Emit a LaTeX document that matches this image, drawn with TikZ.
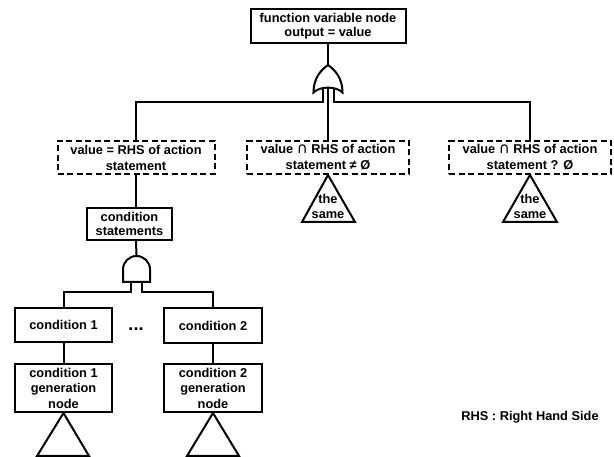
\documentclass[tikz,border=0pt]{standalone}
\usepackage{fontspec}
\setmainfont{Liberation Sans}
\newfontfamily\dvfont{DejaVu Sans}
\newcommand{\mycap}{{\dvfont\mdseries\fontsize{15}{16}\selectfont ∩}}
\begin{document}
\begin{tikzpicture}[x=1pt,y=-1pt,line width=2pt,
  every node/.style={font=\fontsize{12.8}{14.5}\selectfont\bfseries,align=center,inner sep=0pt},
  solidbox/.style={draw,rectangle,line width=2pt},
  dashbox/.style={draw,rectangle,line width=2pt,dash pattern=on 6pt off 3.5pt},
  wire/.style={line width=2pt}]
\useasboundingbox (0,0) rectangle (614,457);
\coordinate (bus) at (0,102);
\coordinate (bus2) at (0,292.5);
% top
\node[solidbox,minimum width=155pt,minimum height=34pt] (top) at (328,26)
  {function variable node\\output = value};
% OR gate
\coordinate (orT) at (328,65);
\coordinate (orL) at (323,88);
\coordinate (orM) at (328,87.5);
\coordinate (orR) at (334,88);
\draw[wire] (313.5,92.5) .. controls (313.5,78) and (321,70) .. (orT)
  .. controls (335,70) and (342.5,78) .. (342.5,92.5)
  .. controls (336,86) and (320,86) .. cycle;
% dashed boxes
\node[dashbox,minimum width=157pt,minimum height=33pt,font=\fontsize{12.8}{16}\selectfont\bfseries] (ld) at (136,157.5)
  {value = RHS of action\\statement};
\node[dashbox,minimum width=162pt,minimum height=33pt,font=\fontsize{12.8}{16}\selectfont\bfseries] (md) at (328,157.5)
  {value \mycap{} RHS of action\\statement ≠ Ø};
\node[dashbox,minimum width=162pt,minimum height=33pt,font=\fontsize{12.8}{16}\selectfont\bfseries] (rd) at (530,157.5)
  {value \mycap{} RHS of action\\statement ? Ø};
\draw[wire] (top.south) -- (orT);
\draw[wire] (orL) -- (orL |- bus) -| (ld.north);
\draw[wire] (orM) -- (md.north);
\draw[wire] (orR) -- (orR |- bus) -| (rd.north);
% "the same" triangles
\coordinate (mtL) at (302,222);
\coordinate (mtR) at (355,222);
\draw[wire,line join=miter] (md.south) -- (mtR) -- (mtL) -- cycle;
\node[font=\fontsize{12.8}{15}\selectfont\bfseries] (mts) at (328,206) {the\\same};
\coordinate (rtL) at (503,222);
\coordinate (rtR) at (557,222);
\draw[wire,line join=miter] (rd.south) -- (rtR) -- (rtL) -- cycle;
\node[font=\fontsize{12.8}{15}\selectfont\bfseries] (rts) at (530,206) {the\\same};
% condition statements
\node[solidbox,minimum width=85pt,minimum height=32pt] (cs) at (129.5,224)
  {condition\\statements};
\draw[wire] (ld.south) -- (ld.south |- cs.north);
% AND gate
\coordinate (andT) at (136.5,256);
\coordinate (andL) at (131,282);
\coordinate (andR) at (142,282);
\draw[wire] (ld.south |- cs.south) -- (andT);
\draw[wire] (123,282) -- (123,269.5) .. controls (123,262) and (129,256) .. (andT)
  .. controls (144,256) and (150,262) .. (150,269.5) -- (150,282) -- cycle;
% conditions
\node[solidbox,minimum width=97pt,minimum height=34pt] (c1) at (63.5,325) {condition 1};
\node[solidbox,minimum width=98pt,minimum height=35pt] (c2) at (213,325.5) {condition 2};
\node[font=\fontsize{18}{18}\selectfont\bfseries,anchor=base] (dots) at (136,331) {...};
\draw[wire] (andL) -- (andL |- bus2) -| (c1.north);
\draw[wire] (andR) -- (andR |- bus2) -| (c2.north);
\node[solidbox,minimum width=97pt,minimum height=48pt,font=\fontsize{12.8}{15.5}\selectfont\bfseries] (g1) at (63.5,388)
  {condition 1\\generation\\node};
\node[solidbox,minimum width=98pt,minimum height=48pt,font=\fontsize{12.8}{15.5}\selectfont\bfseries] (g2) at (213,388)
  {condition 2\\generation\\node};
\draw[wire] (c1.south) -- (g1.north);
\draw[wire] (c2.south) -- (g2.north);
\coordinate (t1L) at (37,456);
\coordinate (t1R) at (89,456);
\draw[wire,line join=miter] (g1.south) -- (t1R) -- (t1L) -- cycle;
\coordinate (t2L) at (187,456);
\coordinate (t2R) at (239,456);
\draw[wire,line join=miter] (g2.south) -- (t2R) -- (t2L) -- cycle;
% legend
\node (rhs) at (530,417) {RHS : Right Hand Side};
\end{tikzpicture}
\end{document}
